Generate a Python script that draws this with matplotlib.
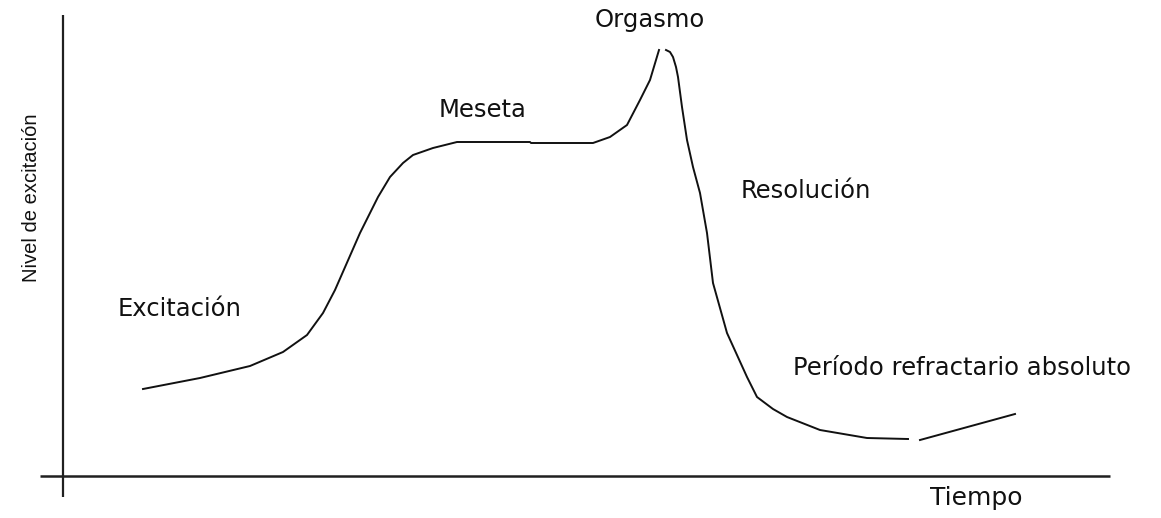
import matplotlib
matplotlib.use('Agg')
import matplotlib.pyplot as plt

# curve: time (x) and arousal level (y), origin at the axes corner
rise_t = [80, 137, 187, 220, 244, 260, 272, 297, 315, 327, 340, 350, 370, 394, 467, 468,
          530, 547, 564, 577, 587, 596]
rise_y = [87, 98, 110, 124, 141, 163, 186, 243, 279, 299, 313, 321, 328, 334, 334, 333,
          333, 339, 351, 376, 396, 426]
fall_t = [603, 607, 610, 613, 615, 619, 624, 630, 637, 644, 650, 664, 684, 694, 710, 724,
          757, 804, 845]
fall_y = [426, 424, 419, 409, 399, 369, 336, 309, 283, 243, 193, 143, 99, 79, 67, 59,
          46, 38, 37]
tail_t = [857, 952]
tail_y = [36, 62]

phase_labels = ['Excitación', 'Meseta', 'Orgasmo', 'Resolución',
                'Período refractario absoluto']
phase_t = [117, 420, 587, 743, 899]
phase_y = [167, 366, 456, 285, 108]

xlabel = 'Tiempo'
ylabel = 'Nivel de excitación'

fig = plt.figure(figsize=(11.61, 5.18), dpi=100)
ax = fig.add_axes([0, 0, 1, 1])
ax.set_xlim(-63, 1098)
ax.set_ylim(-42, 476)
ax.axis('off')

axcol = '#202020'
ax.plot([-23, 1047], [0, 0], color=axcol, lw=1.8, solid_capstyle='butt')
ax.plot([0, 0], [-21, 461], color=axcol, lw=1.6, solid_capstyle='butt')

for t, y in [(rise_t, rise_y), (fall_t, fall_y), (tail_t, tail_y)]:
    ax.plot(t, y, color='#111111', lw=1.4, solid_joinstyle='round')

for s, t, y in zip(phase_labels, phase_t, phase_y):
    ax.text(t, y, s, ha='center', va='center', fontsize=17.5,
            family='DejaVu Sans', color='#111111')

ax.text(913, -22, xlabel, ha='center', va='center', fontsize=18,
        family='DejaVu Sans', color='#111111')
ax.text(-31, 278, ylabel, ha='center', va='center', rotation=90, fontsize=14.5,
        family='Liberation Sans', color='#111111')

fig.savefig('out.png', dpi=100)
